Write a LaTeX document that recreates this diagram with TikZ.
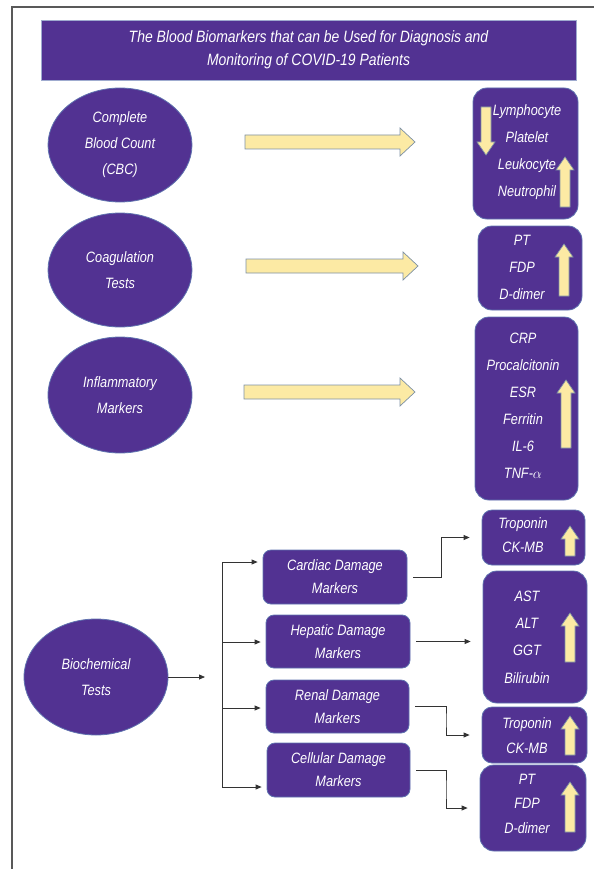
\documentclass[tikz,border=0pt]{standalone}
\usepackage{fontspec}
\setmainfont{Liberation Sans}[FakeStretch=0.85]
\usetikzlibrary{shapes.geometric,arrows.meta}
\definecolor{purp}{RGB}{82,50,146}
\definecolor{rim}{RGB}{95,115,175}
\definecolor{pale}{RGB}{252,234,164}
\definecolor{paleline}{RGB}{125,145,165}
\begin{document}
\begin{tikzpicture}[x=1pt,y=-1pt,
    test/.style={ellipse,fill=purp,draw=rim,line width=0.8,minimum width=144,minimum height=114,
        text=white,align=center,font=\fontsize{15}{26}\selectfont\itshape},
    res/.style={rectangle,rounded corners=14,fill=purp,draw=rim,line width=0.8},
    dmg/.style={rectangle,rounded corners=8,fill=purp,draw=rim,line width=0.8,minimum width=144,minimum height=54,
        text=white,align=center,font=\fontsize{15}{23}\selectfont\itshape},
    txt/.style={text=white,align=center,inner sep=0,font=\fontsize{15}{#1}\selectfont\itshape},
    blk/.style={fill=pale,draw=paleline,line width=0.7},
    conn/.style={draw=black!80,line width=0.8,-{Triangle[length=6pt,width=5pt]}}]
    \useasboundingbox (0,0) rectangle (594,869);
    \draw[black!65,line width=1.3] (12,869) -- (12,7) -- (594,7);

    \node[rectangle,fill=purp,draw=rim!60,line width=0.6,minimum width=535,minimum height=60,
        text=white,align=center,font=\fontsize{16.4}{23}\selectfont\itshape] (title) at (308.5,50)
        {The Blood Biomarkers that can be Used for Diagnosis and\\Monitoring of COVID-19 Patients};

    % tests
    \node[test] (cbc) at (120,145) {Complete\\Blood Count\\(CBC)};
    \node[test] (coag) at (120,270) {Coagulation\\Tests};
    \node[test,minimum height=116] (infl) at (120,395) {Inflammatory\\Markers};
    \node[test,minimum height=116] (bio) at (96,677) {Biochemical\\Tests};

    \foreach \xa/\xb/\yc in {245/415/142, 246/418/266, 244/415/392} {
        \draw[blk] (\xa,{\yc-7}) -- ({\xb-15},{\yc-7}) -- ({\xb-15},{\yc-14}) -- (\xb,\yc)
            -- ({\xb-15},{\yc+14}) -- ({\xb-15},{\yc+7}) -- (\xa,{\yc+7}) -- cycle;
    }

    % results
    \node[res,minimum width=105,minimum height=131] (cbcres) at (525.5,153.5) {};
    \node[res,minimum width=104,minimum height=84] (coagres) at (530,268) {};
    \node[res,minimum width=103,minimum height=183] (inflres) at (526.5,408.5) {};
    \node[res,rounded corners=10,minimum width=103,minimum height=55] (cardres) at (533.5,537.5) {};
    \node[res,minimum width=104,minimum height=132] (hepres) at (535,637) {};
    \node[res,rounded corners=10,minimum width=105,minimum height=56] (renres) at (534.5,735) {};
    \node[res,minimum width=106,minimum height=86] (cellres) at (533,808) {};

    \node[txt=27] (cbctxt) at (527,152.5) {Lymphocyte\\Platelet\\Leukocyte\\Neutrophil};
    \node[txt=27] (coagtxt) at (522,267) {PT\\FDP\\D-dimer};
    \node[txt=27] (infltxt) at (523,405.5) {CRP\\Procalcitonin\\ESR\\Ferritin\\IL-6\\TNF-$\alpha$};
    \node[txt=24] (cardtxt) at (523,535) {Troponin\\CK-MB};
    \node[txt=27.3] (heptxt) at (527,637) {AST\\ALT\\GGT\\Bilirubin};
    \node[txt=25] (rentxt) at (527,735.5) {Troponin\\CK-MB};
    \node[txt=24.5] (celltxt) at (527,803.5) {PT\\FDP\\D-dimer};

    \draw[blk] (481,107) -- (481,142) -- (477,142) -- (486,155) -- (495,142) -- (491,142) -- (491,107) -- cycle;
    \foreach \cx/\t/\b in {565/157/207, 564/244/296, 566/380/448, 570/526/556, 570/613/662, 570/716/755, 570/782/832} {
        \draw[blk] ({\cx-5},\b) -- ({\cx-5},{\t+13}) -- ({\cx-9},{\t+13}) -- (\cx,\t)
            -- ({\cx+9},{\t+13}) -- ({\cx+5},{\t+13}) -- ({\cx+5},\b) -- cycle;
    }

    % damage markers
    \node[dmg] (card) at (335,577) {Cardiac Damage\\Markers};
    \node[dmg,minimum height=53] (hep) at (338,641.5) {Hepatic Damage\\Markers};
    \node[dmg,minimum width=143,minimum height=53] (ren) at (337.5,706.5) {Renal Damage\\Markers};
    \node[dmg,minimum width=143] (cell) at (338.5,770) {Cellular Damage\\Markers};

    \coordinate (biotip) at (205,677);
    \coordinate (trunktop) at (222,562);
    \coordinate (trunkbot) at (222,787);
    \draw[conn] (bio.east) -- (biotip);
    \draw[draw=black!80,line width=0.8] (trunktop) -- (trunkbot);
    \draw[conn,shorten >=5pt] (trunktop) -- (trunktop -| card.west);
    \draw[conn,shorten >=5pt] (222,642) -- (hep.west |- 0,642);
    \draw[conn,shorten >=5pt] (222,708) -- (ren.west |- 0,708);
    \draw[conn,shorten >=5pt] (trunkbot) -- (trunkbot -| cell.west);

    \draw[conn,shorten <=6pt,shorten >=12pt] (card.east) -- ++(34,0) |- (cardres.west);
    \draw[conn,shorten <=6pt,shorten >=12pt] (hep.east) -- (hep.east -| hepres.west);
    \draw[conn,shorten <=6pt,shorten >=12pt] (ren.east) -| (446,720) |- (renres.west);
    \draw[conn,shorten <=6pt,shorten >=12pt] (cell.east) -| (446,790) |- (cellres.west);
\end{tikzpicture}
\end{document}
